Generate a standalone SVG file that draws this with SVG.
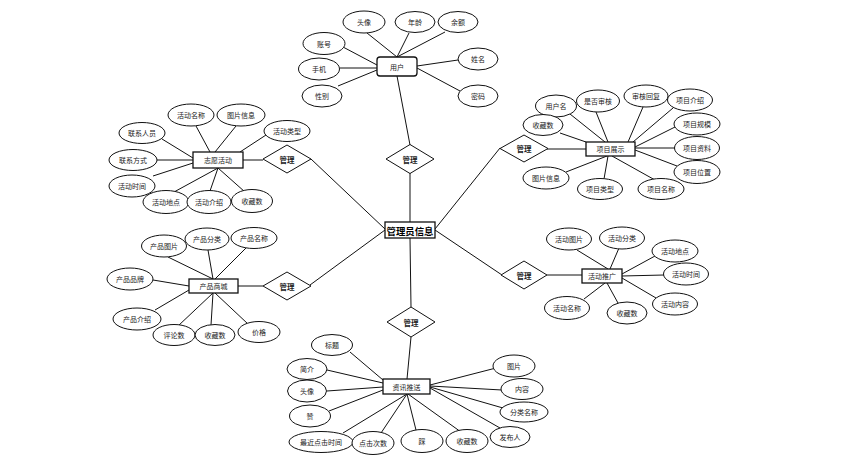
<svg xmlns="http://www.w3.org/2000/svg" width="844" height="466" viewBox="0 0 844 466">
<style>
text{font-family:"Noto Sans CJK SC","Noto Sans",sans-serif;font-size:7px;fill:#222;text-anchor:middle;dominant-baseline:central}
.e{fill:#fff;stroke:#111;stroke-width:1}
.b{fill:#fff;stroke:#111;stroke-width:1.3}
.d{fill:#fff;stroke:#111;stroke-width:1}
.r text{font-weight:bold;font-size:7.5px}
.main text{font-size:9.4px;font-weight:bold;fill:#000}
#connectors line{stroke:#111;stroke-width:1}
</style>
<rect width="844" height="466" fill="#fff"/>
<g id="connectors">
<line x1="397" y1="76" x2="410" y2="145"/>
<line x1="410" y1="173" x2="410" y2="222"/>
<line x1="385" y1="229" x2="311" y2="159"/>
<line x1="435" y1="229" x2="500" y2="148"/>
<line x1="385" y1="230" x2="310" y2="285"/>
<line x1="435" y1="230" x2="502" y2="275"/>
<line x1="410" y1="238" x2="411" y2="307"/>
<line x1="411" y1="337" x2="407" y2="379"/>
<line x1="367" y1="33" x2="397" y2="57"/>
<line x1="409" y1="33" x2="397" y2="57"/>
<line x1="445" y1="32" x2="397" y2="57"/>
<line x1="343" y1="47" x2="377" y2="65"/>
<line x1="340" y1="68" x2="377" y2="68"/>
<line x1="338" y1="86" x2="377" y2="70"/>
<line x1="458" y1="60" x2="417" y2="66"/>
<line x1="460" y1="91" x2="417" y2="68"/>
<line x1="243" y1="160" x2="263" y2="160"/>
<line x1="196" y1="126" x2="210" y2="152"/>
<line x1="236" y1="126" x2="215" y2="152"/>
<line x1="266" y1="135" x2="240" y2="152"/>
<line x1="162" y1="139" x2="193" y2="158"/>
<line x1="157" y1="160" x2="193" y2="160"/>
<line x1="153" y1="176" x2="193" y2="163"/>
<line x1="174" y1="192" x2="218" y2="168"/>
<line x1="210" y1="191" x2="218" y2="168"/>
<line x1="245" y1="192" x2="218" y2="168"/>
<line x1="547" y1="149" x2="586" y2="149"/>
<line x1="570" y1="114" x2="605" y2="142"/>
<line x1="596" y1="112" x2="608" y2="142"/>
<line x1="643" y1="107" x2="628" y2="142"/>
<line x1="673" y1="108" x2="633" y2="142"/>
<line x1="675" y1="127" x2="635" y2="147"/>
<line x1="675" y1="148" x2="635" y2="148"/>
<line x1="677" y1="166" x2="635" y2="150"/>
<line x1="560" y1="133" x2="586" y2="142"/>
<line x1="566" y1="172" x2="607" y2="156"/>
<line x1="604" y1="179" x2="608" y2="156"/>
<line x1="655" y1="180" x2="612" y2="156"/>
<line x1="238" y1="286" x2="263" y2="286"/>
<line x1="168" y1="257" x2="213" y2="279"/>
<line x1="208" y1="250" x2="213" y2="279"/>
<line x1="246" y1="248" x2="215" y2="279"/>
<line x1="153" y1="280" x2="189" y2="286"/>
<line x1="155" y1="310" x2="189" y2="290"/>
<line x1="178" y1="326" x2="213" y2="293"/>
<line x1="211" y1="325" x2="213" y2="293"/>
<line x1="248" y1="324" x2="215" y2="293"/>
<line x1="547" y1="275" x2="582" y2="275"/>
<line x1="577" y1="250" x2="608" y2="269"/>
<line x1="619" y1="248" x2="610" y2="269"/>
<line x1="655" y1="256" x2="622" y2="274"/>
<line x1="664" y1="275" x2="622" y2="276"/>
<line x1="656" y1="298" x2="622" y2="278"/>
<line x1="584" y1="299" x2="605" y2="283"/>
<line x1="618" y1="303" x2="607" y2="283"/>
<line x1="350" y1="352" x2="383" y2="380"/>
<line x1="327" y1="370" x2="383" y2="383"/>
<line x1="327" y1="391" x2="383" y2="387"/>
<line x1="329" y1="411" x2="383" y2="390"/>
<line x1="343" y1="433" x2="407" y2="394"/>
<line x1="381" y1="433" x2="407" y2="394"/>
<line x1="416" y1="430" x2="407" y2="394"/>
<line x1="461" y1="432" x2="408" y2="394"/>
<line x1="500" y1="428" x2="430" y2="388"/>
<line x1="503" y1="408" x2="430" y2="387"/>
<line x1="502" y1="390" x2="430" y2="386"/>
<line x1="496" y1="368" x2="430" y2="385"/>
</g>

<g id="main" class="main"><rect class="b" x="385" y="222" width="50" height="16"/><text x="410" y="230.5">管理员信息</text></g>

<g id="user"><rect class="b" x="377" y="57" width="40" height="19" rx="3"/><text x="397" y="66.5">用户</text></g>
<g id="u-touxiang"><ellipse class="e" cx="364" cy="22" rx="21" ry="11"/><text x="364" y="22">头像</text></g>
<g id="u-age"><ellipse class="e" cx="415" cy="22" rx="20" ry="10.5"/><text x="415" y="22">年龄</text></g>
<g id="u-balance"><ellipse class="e" cx="458" cy="22" rx="20" ry="10.5"/><text x="458" y="22">余额</text></g>
<g id="u-account"><ellipse class="e" cx="324" cy="43.5" rx="21" ry="11"/><text x="324" y="43.5">账号</text></g>
<g id="u-phone"><ellipse class="e" cx="319" cy="69" rx="20.5" ry="11"/><text x="319" y="69">手机</text></g>
<g id="u-sex"><ellipse class="e" cx="322" cy="96" rx="20" ry="11"/><text x="322" y="96">性别</text></g>
<g id="u-name"><ellipse class="e" cx="478" cy="59" rx="20" ry="11"/><text x="478" y="59">姓名</text></g>
<g id="u-pwd"><ellipse class="e" cx="478" cy="96" rx="20" ry="11"/><text x="478" y="96">密码</text></g>

<g id="r-top" class="r"><polygon class="d" points="386,159 410,144.5 434,159 410,173.5"/><text x="410" y="159">管理</text></g>
<g id="r-vol" class="r"><polygon class="d" points="263,159 287,145 311,159 287,173"/><text x="287" y="159">管理</text></g>
<g id="r-proj" class="r"><polygon class="d" points="500,148.5 524,135 548,148.5 524,162"/><text x="524" y="148.5">管理</text></g>
<g id="r-shop" class="r"><polygon class="d" points="263,286 287,272 311,286 287,300"/><text x="287" y="286">管理</text></g>
<g id="r-promo" class="r"><polygon class="d" points="501,275 524,261 547,275 524,289"/><text x="524" y="275">管理</text></g>
<g id="r-news" class="r"><polygon class="d" points="387,322 411,307 435,322 411,337"/><text x="411" y="322">管理</text></g>

<g id="vol"><rect class="b" x="193" y="152" width="50" height="16"/><text x="218" y="160">志愿活动</text></g>
<g id="v-name"><ellipse class="e" cx="191" cy="115" rx="23" ry="11"/><text x="191" y="115">活动名称</text></g>
<g id="v-img"><ellipse class="e" cx="241" cy="115" rx="24" ry="11"/><text x="241" y="115">图片信息</text></g>
<g id="v-type"><ellipse class="e" cx="287" cy="131" rx="23" ry="10.5"/><text x="287" y="131">活动类型</text></g>
<g id="v-contact"><ellipse class="e" cx="142" cy="133" rx="23" ry="10.5"/><text x="142" y="133">联系人员</text></g>
<g id="v-way"><ellipse class="e" cx="133" cy="160" rx="24" ry="10.5"/><text x="133" y="160">联系方式</text></g>
<g id="v-time"><ellipse class="e" cx="132" cy="186" rx="23" ry="11"/><text x="132" y="186">活动时间</text></g>
<g id="v-place"><ellipse class="e" cx="166" cy="202" rx="23" ry="11.5"/><text x="166" y="202">活动地点</text></g>
<g id="v-intro"><ellipse class="e" cx="209" cy="202" rx="22" ry="11.5"/><text x="209" y="202">活动介绍</text></g>
<g id="v-fav"><ellipse class="e" cx="252" cy="201" rx="20.5" ry="11.5"/><text x="252" y="201">收藏数</text></g>

<g id="proj"><rect class="b" x="586" y="142" width="49" height="14"/><text x="610.5" y="149">项目展示</text></g>
<g id="p-user"><ellipse class="e" cx="556" cy="106" rx="20.5" ry="11"/><text x="556" y="106">用户名</text></g>
<g id="p-audit"><ellipse class="e" cx="598" cy="101" rx="21.5" ry="11"/><text x="598" y="101">是否审核</text></g>
<g id="p-reply"><ellipse class="e" cx="646" cy="96" rx="22" ry="11"/><text x="646" y="96">审核回复</text></g>
<g id="p-intro"><ellipse class="e" cx="690" cy="100" rx="22.5" ry="11"/><text x="690" y="100">项目介绍</text></g>
<g id="p-scale"><ellipse class="e" cx="697" cy="124" rx="23" ry="11"/><text x="697" y="124">项目规模</text></g>
<g id="p-data"><ellipse class="e" cx="697" cy="148" rx="22.5" ry="11.5"/><text x="697" y="148">项目资料</text></g>
<g id="p-loc"><ellipse class="e" cx="697" cy="172" rx="23" ry="11.5"/><text x="697" y="172">项目位置</text></g>
<g id="p-fav"><ellipse class="e" cx="543" cy="125" rx="20" ry="10.5"/><text x="543" y="125">收藏数</text></g>
<g id="p-img"><ellipse class="e" cx="546" cy="178" rx="23" ry="11"/><text x="546" y="178">图片信息</text></g>
<g id="p-type"><ellipse class="e" cx="600" cy="189" rx="22.5" ry="10.5"/><text x="600" y="189">项目类型</text></g>
<g id="p-name"><ellipse class="e" cx="661" cy="189" rx="23" ry="10.5"/><text x="661" y="189">项目名称</text></g>

<g id="shop"><rect class="b" x="189" y="279" width="49" height="14"/><text x="213.5" y="286">产品商城</text></g>
<g id="s-img"><ellipse class="e" cx="164" cy="246" rx="22.5" ry="11"/><text x="164" y="246">产品图片</text></g>
<g id="s-cat"><ellipse class="e" cx="207" cy="239" rx="22" ry="11"/><text x="207" y="239">产品分类</text></g>
<g id="s-name"><ellipse class="e" cx="254" cy="238" rx="23" ry="10.5"/><text x="254" y="238">产品名称</text></g>
<g id="s-brand"><ellipse class="e" cx="130" cy="279" rx="23" ry="11"/><text x="130" y="279">产品品牌</text></g>
<g id="s-intro"><ellipse class="e" cx="137" cy="319" rx="24" ry="11"/><text x="137" y="319">产品介绍</text></g>
<g id="s-comment"><ellipse class="e" cx="174" cy="335" rx="21" ry="10.5"/><text x="174" y="335">评论数</text></g>
<g id="s-fav"><ellipse class="e" cx="215" cy="335" rx="20" ry="10.5"/><text x="215" y="335">收藏数</text></g>
<g id="s-price"><ellipse class="e" cx="259" cy="332" rx="21" ry="10.5"/><text x="259" y="332">价格</text></g>

<g id="promo"><rect class="b" x="582" y="269" width="40" height="14"/><text x="602" y="276">活动推广</text></g>
<g id="a-img"><ellipse class="e" cx="569" cy="239" rx="22.5" ry="11"/><text x="569" y="239">活动图片</text></g>
<g id="a-cat"><ellipse class="e" cx="622" cy="238" rx="22.5" ry="11"/><text x="622" y="238">活动分类</text></g>
<g id="a-place"><ellipse class="e" cx="675" cy="251" rx="23" ry="11"/><text x="675" y="251">活动地点</text></g>
<g id="a-time"><ellipse class="e" cx="686" cy="274" rx="22.5" ry="11"/><text x="686" y="274">活动时间</text></g>
<g id="a-content"><ellipse class="e" cx="675" cy="304" rx="22.5" ry="11"/><text x="675" y="304">活动内容</text></g>
<g id="a-name"><ellipse class="e" cx="567" cy="308" rx="22.5" ry="11.5"/><text x="567" y="308">活动名称</text></g>
<g id="a-fav"><ellipse class="e" cx="627" cy="313" rx="20" ry="11"/><text x="627" y="313">收藏数</text></g>

<g id="news"><rect class="b" x="383" y="379" width="47" height="15"/><text x="406.5" y="386.5">资讯推送</text></g>
<g id="n-title"><ellipse class="e" cx="332" cy="345" rx="20.5" ry="10.5"/><text x="332" y="345">标题</text></g>
<g id="n-brief"><ellipse class="e" cx="307" cy="369" rx="20" ry="10.5"/><text x="307" y="369">简介</text></g>
<g id="n-avatar"><ellipse class="e" cx="307" cy="391" rx="19.5" ry="11"/><text x="307" y="391">头像</text></g>
<g id="n-like"><ellipse class="e" cx="310" cy="416" rx="20.5" ry="11"/><text x="310" y="416">赞</text></g>
<g id="n-lasttime"><ellipse class="e" cx="321" cy="442" rx="32" ry="10.5"/><text x="321" y="442">最近点击时间</text></g>
<g id="n-clicks"><ellipse class="e" cx="373" cy="443" rx="21" ry="11.5"/><text x="373" y="443">点击次数</text></g>
<g id="n-dislike"><ellipse class="e" cx="422" cy="441" rx="21" ry="11.5"/><text x="422" y="441">踩</text></g>
<g id="n-fav"><ellipse class="e" cx="467" cy="441" rx="21" ry="11.5"/><text x="467" y="441">收藏数</text></g>
<g id="n-author"><ellipse class="e" cx="510" cy="437" rx="20" ry="10.5"/><text x="510" y="437">发布人</text></g>
<g id="n-catname"><ellipse class="e" cx="524" cy="412" rx="24" ry="10"/><text x="524" y="412">分类名称</text></g>
<g id="n-content"><ellipse class="e" cx="522" cy="389" rx="21" ry="10.5"/><text x="522" y="389">内容</text></g>
<g id="n-img"><ellipse class="e" cx="514" cy="366" rx="21" ry="11"/><text x="514" y="366">图片</text></g>
</svg>
